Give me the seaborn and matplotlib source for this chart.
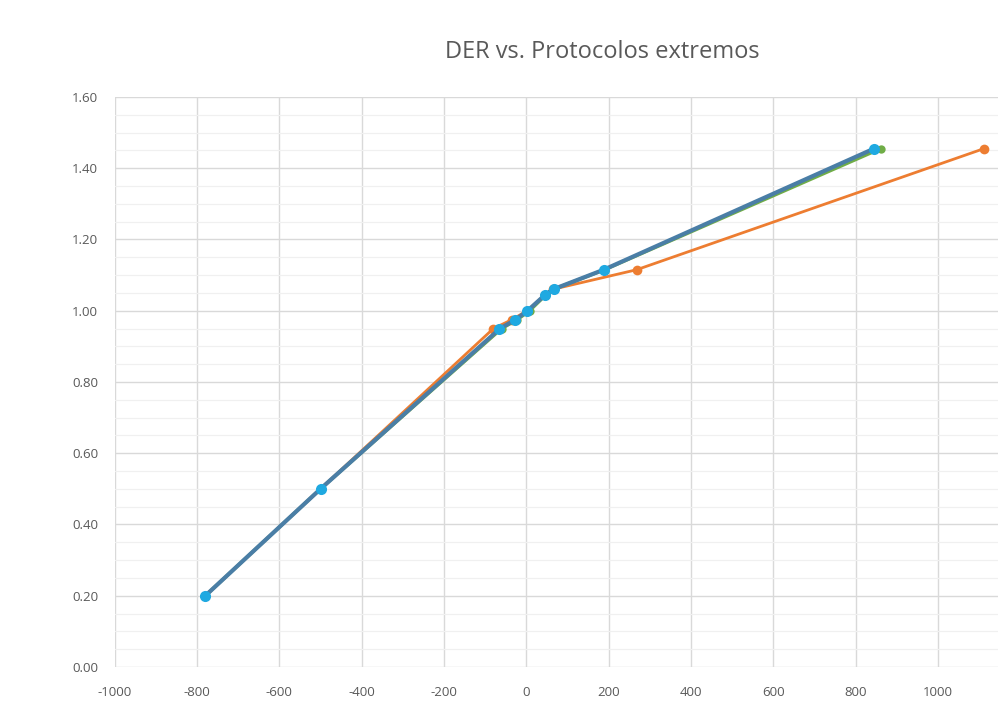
import numpy as np
import pandas as pd
import matplotlib.pyplot as plt
import seaborn as sns
from matplotlib.ticker import MultipleLocator, FormatStrFormatter

# DER values (y) shared by the protocols
der = [0.20, 0.50, 0.95, 0.975, 1.00, 1.045, 1.06, 1.115, 1.455]

x_orange = [-780, -500, -80, -35, 2, 46, 64, 268, 1112]
x_green = [-780, -500, -60, -22, 8, 48, 66, 190, 861]
x_steel = [-780, -500, -64, -26, 3, 46, 65, 188, 845]
x_cyan = [-780, -500, -66, -27, 2, 46, 66, 188, 845]

series = {
    'Orange': (x_orange, '#ED7D31', 2.0, 7),
    'Green': (x_green, '#70AD47', 2.4, 6),
    'Steel': (x_steel, '#4A7EA6', 3.0, 0),
    'Cyan': (x_cyan, '#1FA9E1', 0.0, 8),
}

sns.set_theme(style="white")
plt.rcParams['font.family'] = ['Open Sans', 'DejaVu Sans']
plt.rcParams['axes.unicode_minus'] = False

fig = plt.figure(figsize=(9.98, 7.18), dpi=100)
ax = fig.add_axes([0.115, 0.071, 0.885, 0.794])

for name, (xs, color, lw, ms) in series.items():
    df = pd.DataFrame({'x': xs, 'y': der})
    sns.lineplot(data=df, x='x', y='y', ax=ax, color=color, linewidth=lw,
                 marker='o' if ms else None, markersize=ms,
                 markeredgewidth=0, sort=False, legend=False)

ax.set_xlim(-1000, 1146)
ax.set_ylim(0, 1.6)
ax.xaxis.set_major_locator(MultipleLocator(200))
ax.yaxis.set_major_locator(MultipleLocator(0.2))
ax.yaxis.set_minor_locator(MultipleLocator(0.05))
ax.yaxis.set_major_formatter(FormatStrFormatter('%.2f'))
ax.grid(which='major', color='#D9D9D9', linewidth=1.0)
ax.grid(which='minor', axis='y', color='#F0F0F0', linewidth=0.9)
ax.set_axisbelow(True)
for s in ax.spines.values():
    s.set_visible(False)
ax.tick_params(axis='both', which='both', length=0, labelsize=9.5,
               labelcolor='#595959')
ax.tick_params(axis='x', pad=14)
ax.tick_params(axis='y', pad=12)
ax.set_xlabel('')
ax.set_ylabel('')

fig.text(0.604, 0.927, 'DER vs. Protocolos extremos', ha='center', va='center',
         fontsize=17, color='#595959')

fig.savefig('out.png', dpi=100)
